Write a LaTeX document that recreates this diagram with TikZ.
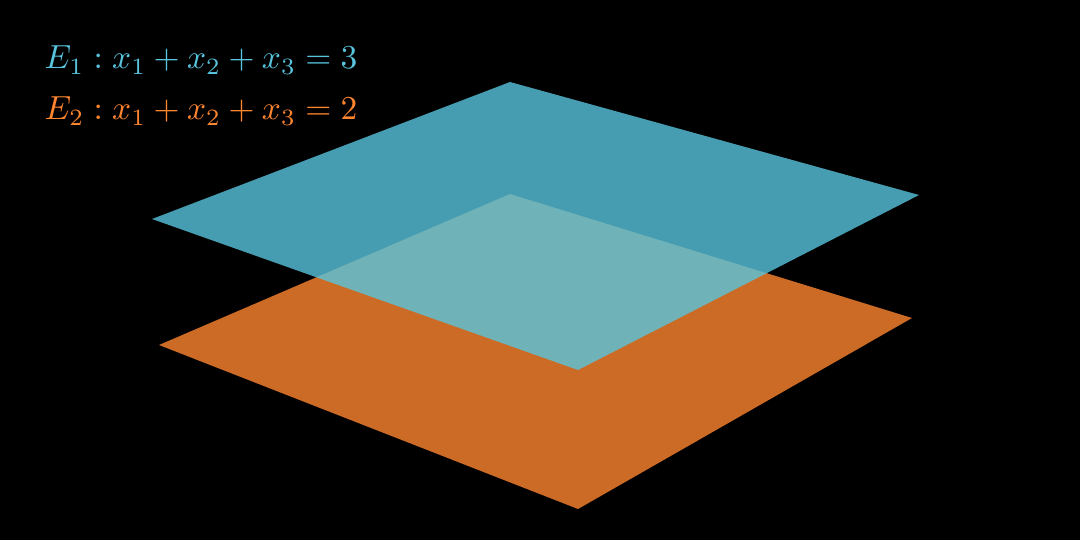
\documentclass[tikz,border=0pt]{standalone}
\usepackage{amsmath}
\usepackage{amssymb}

\definecolor{planeblue}{HTML}{58C4DD}
\definecolor{planeorange}{HTML}{FF862F}

\begin{document}
\begin{tikzpicture}[x=0.01cm,y=-0.01cm]
    % Background
    \fill[black] (0,0) rectangle (1080,540);
    \useasboundingbox (0,0) rectangle (1080,540);

    % Plane E2 (lower)
    \fill[planeorange,fill opacity=0.8] (510,194) -- (912,318) -- (578,509) -- (159,345) -- cycle;

    % Plane E1 (upper)
    \fill[planeblue,fill opacity=0.8] (510,82) -- (919,195) -- (578,370) -- (152,219) -- cycle;

    % Equations
    \node[anchor=base west,inner sep=0pt,scale=0.95,text=planeblue] (eqone) at (44,69) {\(E_1 : x_1 + x_2 + x_3 = 3\)};
    \node[anchor=base west,inner sep=0pt,scale=0.95,text=planeorange] (eqtwo) at (44,120) {\(E_2 : x_1 + x_2 + x_3 = 2\)};
\end{tikzpicture}
\end{document}
